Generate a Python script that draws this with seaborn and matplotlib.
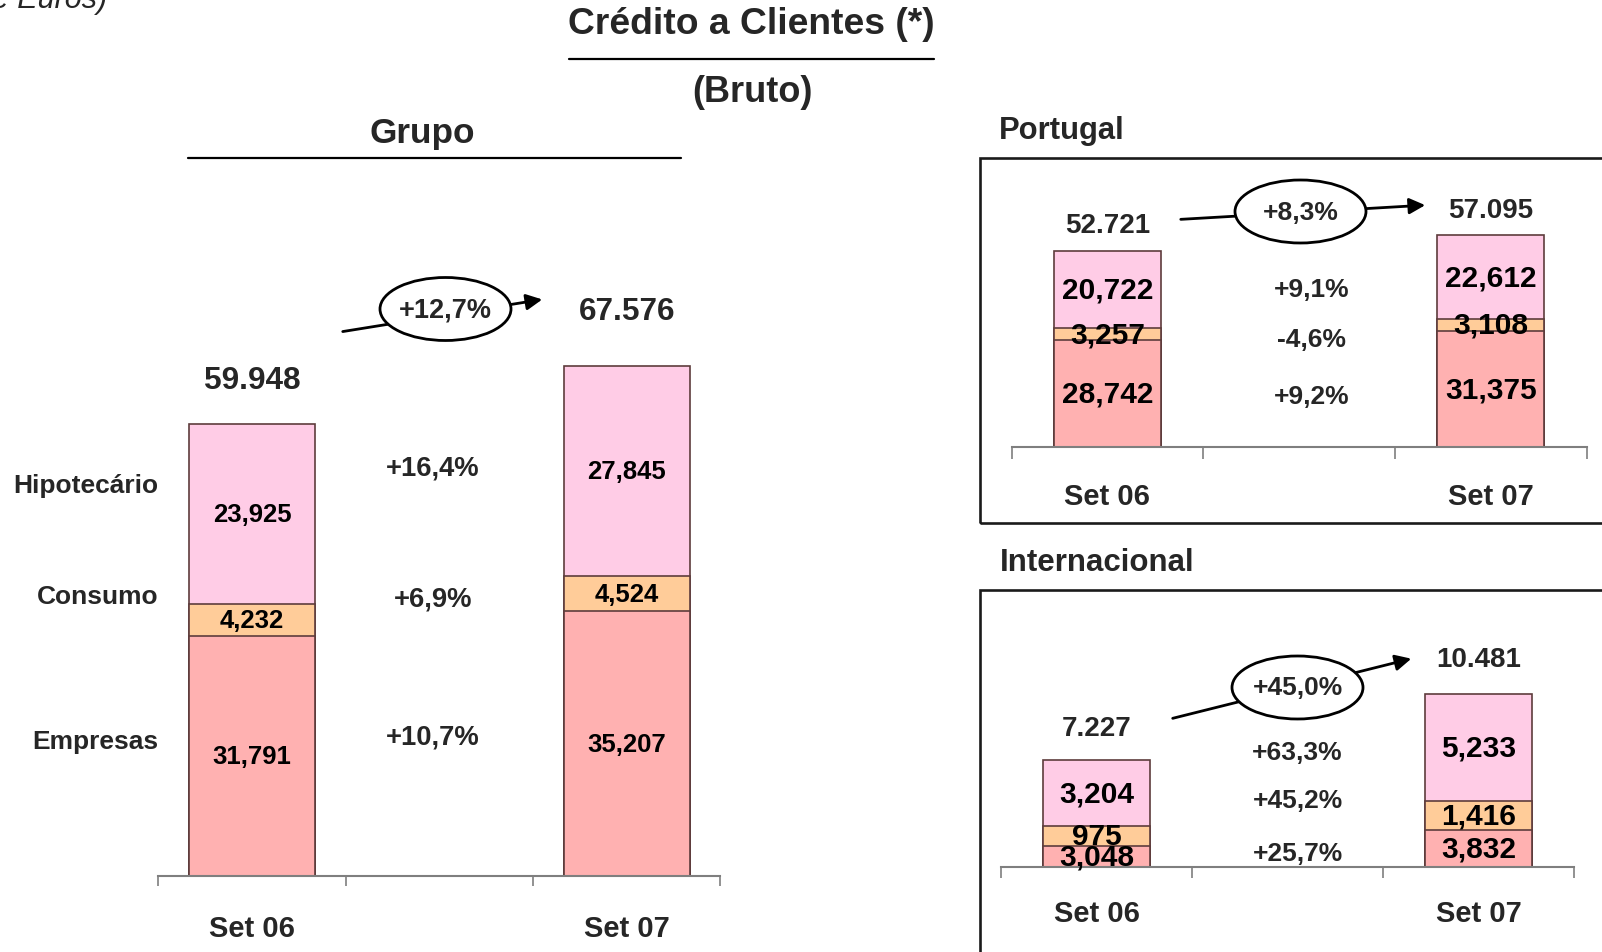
import matplotlib
matplotlib.use("Agg")
import matplotlib.pyplot as plt
from matplotlib.patches import Ellipse, Rectangle, FancyArrowPatch
from matplotlib.lines import Line2D
import pandas as pd
import seaborn as sns

# ---- data (Milhões de Euros) ----
periods = ["Set 06", "Set 07"]
segments = ["Empresas", "Consumo", "Hipotecário"]

grupo_empresas = [31791, 35207]
grupo_consumo = [4232, 4524]
grupo_hipotecario = [23925, 27845]
grupo_var = ["+10,7%", "+6,9%", "+16,4%"]
grupo_total_var = "+12,7%"

pt_empresas = [28742, 31375]
pt_consumo = [3257, 3108]
pt_hipotecario = [20722, 22612]
pt_var = ["+9,2%", "-4,6%", "+9,1%"]
pt_total_var = "+8,3%"

int_empresas = [3048, 3832]
int_consumo = [975, 1416]
int_hipotecario = [3204, 5233]
int_var = ["+25,7%", "+45,2%", "+63,3%"]
int_total_var = "+45,0%"

# ---- style ----
W, H = 1602, 953
FONT = ["Liberation Sans", "DejaVu Sans"]
colors = {"Empresas": "#FFB1B1", "Consumo": "#FFCC99", "Hipotecário": "#FFCCE6"}
EDGE = "#5e3c3c"
order = ["Set 06", " ", "Set 07"]

sns.set_theme(style="white")
plt.rcParams["font.family"] = FONT

fig = plt.figure(figsize=(W / 100, H / 100), dpi=100)


def px(x, y):
    return x / W, 1 - y / H


def ftext(x, y, s, **kw):
    fig.text(*px(x, y), s, **kw)


def stacked(ax, emp, con, hip, width, ylim, seg_size, tot_size, set_pad, tick_len, tot_off):
    low = [e + c for e, c in zip(emp, con)]
    tot = [l + h for l, h in zip(low, hip)]
    df = pd.DataFrame({"periodo": periods, "empresas": emp, "consumo": low, "total": tot})
    # draw cumulative bars from the top segment down so they stack
    for col, seg in [("total", "Hipotecário"), ("consumo", "Consumo"), ("empresas", "Empresas")]:
        sns.barplot(data=df, x="periodo", y=col, order=order, color=colors[seg],
                    saturation=1, width=width, edgecolor=EDGE, linewidth=1.2,
                    errorbar=None, ax=ax)
    ax.set_ylim(*ylim)
    ax.set_xlim(-0.5, 2.5)
    ax.set_xlabel("")
    ax.set_ylabel("")
    ax.set_yticks([])
    for s in ["top", "right", "left"]:
        ax.spines[s].set_visible(False)
    ax.spines["bottom"].set_color("#7f7f7f")
    ax.spines["bottom"].set_linewidth(1.5)
    ax.set_xticks([-0.5, 0.5, 1.5, 2.5])
    ax.set_xticklabels([])
    ax.set_xticks([0, 2], minor=True)
    ax.set_xticklabels(periods, minor=True, fontsize=21, fontweight="bold")
    ax.tick_params(axis="x", which="major", bottom=True, length=tick_len, width=1.2,
                   color="#7f7f7f", direction="out")
    ax.tick_params(axis="x", which="minor", bottom=True, length=0, pad=set_pad)
    ax.patch.set_alpha(0)

    for i, x in enumerate([0, 2]):
        bottom = 0
        for v in [emp[i], con[i], hip[i]]:
            lo = max(bottom, ylim[0])
            ax.text(x, (lo + bottom + v) / 2, f"{v:,}", ha="center", va="center",
                    fontsize=seg_size, fontweight="bold", color="black")
            bottom += v
        ax.annotate(f"{tot[i]:,}".replace(",", "."), (x, tot[i]),
                    xytext=(0, tot_off[i] * 0.72), textcoords="offset points",
                    ha="center", va="center", fontsize=tot_size,
                    fontweight="bold", annotation_clip=False)


def growth(start, tip, center, label, size):
    arr = FancyArrowPatch(px(*start), px(*tip), transform=fig.transFigure,
                          arrowstyle="-|>", mutation_scale=24, lw=2, color="black", zorder=4)
    fig.add_artist(arr)
    ell = Ellipse(px(*center), 131 / W, 63 / H, transform=fig.transFigure,
                  facecolor="white", edgecolor="black", lw=2, zorder=5)
    fig.add_artist(ell)
    ftext(*center, label, ha="center", va="center", fontsize=size, fontweight="bold",
          zorder=6)


def hline(x0, x1, y, lw=1.6):
    fig.add_artist(Line2D([x0 / W, x1 / W], [1 - y / H, 1 - y / H],
                          transform=fig.transFigure, color="black", lw=lw))


# ---- Grupo ----
ax_g = fig.add_axes([0.0989, 0.0793, 0.3508, 0.6337])
stacked(ax_g, grupo_empresas, grupo_consumo, grupo_hipotecario, 0.67, (0, 80000),
        18.5, 22.7, 27, 7.5, (44, 55))

# ---- Portugal ----
ax_p = fig.add_axes([0.6314, 0.5295, 0.3590, 0.2732])
stacked(ax_p, pt_empresas, pt_consumo, pt_hipotecario, 0.56, (0, 70000),
        21.5, 20, 25, 8.5, (26.5, 25.5))

# ---- Internacional (Excel axis starts at 2.000) ----
ax_i = fig.add_axes([0.6250, 0.0890, 0.3577, 0.2573])
stacked(ax_i, int_empresas, int_consumo, int_hipotecario, 0.56, (2000, 14000),
        21.5, 20, 23, 8, (32.7, 34.7))

# ---- titles, frames, labels ----
ftext(107, 8, "(Milhões de Euros)", ha="right", va="baseline", fontsize=22,
      style="italic")
ftext(751, 25, "Crédito a Clientes (*)", ha="center", va="center", fontsize=26.8,
      fontweight="bold")
hline(569, 934, 59.5)
ftext(752, 92, "(Bruto)", ha="center", va="center", fontsize=26, fontweight="bold")
ftext(422, 133, "Grupo", ha="center", va="center", fontsize=25.3, fontweight="bold")
hline(188, 681, 158.5)

ftext(999, 131, "Portugal", ha="left", va="center", fontsize=22.3, fontweight="bold")
ftext(1000, 563, "Internacional", ha="left", va="center", fontsize=22.5, fontweight="bold")
for top, bottom in [(158.5, 524), (590.5, 990)]:
    fig.add_artist(Rectangle(px(980, bottom), 700 / W, (bottom - top) / H,
                             transform=fig.transFigure, fill=False, edgecolor="#1a1a1a",
                             lw=1.9, clip_on=False))

for name, y in zip(segments, [742.5, 597.5, 486]):
    ftext(158, y, name, ha="right", va="center", fontsize=19, fontweight="bold")

# variation per segment in the middle slot
for lab, y in zip(grupo_var, [737.5, 599.5, 469]):
    ftext(433, y, lab, ha="center", va="center", fontsize=19.7, fontweight="bold")
for lab, y in zip(pt_var, [397.5, 340, 290]):
    ftext(1312, y, lab, ha="center", va="center", fontsize=19, fontweight="bold")
for lab, y in zip(int_var, [854, 801, 753]):
    ftext(1297.5, y, lab, ha="center", va="center", fontsize=19, fontweight="bold")

growth((340, 333), (545, 300), (445.5, 310), grupo_total_var, 19.5)
growth((1178, 220.5), (1428, 206), (1300.5, 212.5), pt_total_var, 19)
growth((1170, 720), (1414, 659), (1297.5, 688.5), int_total_var, 19)

fig.savefig("out.png", dpi=100)
